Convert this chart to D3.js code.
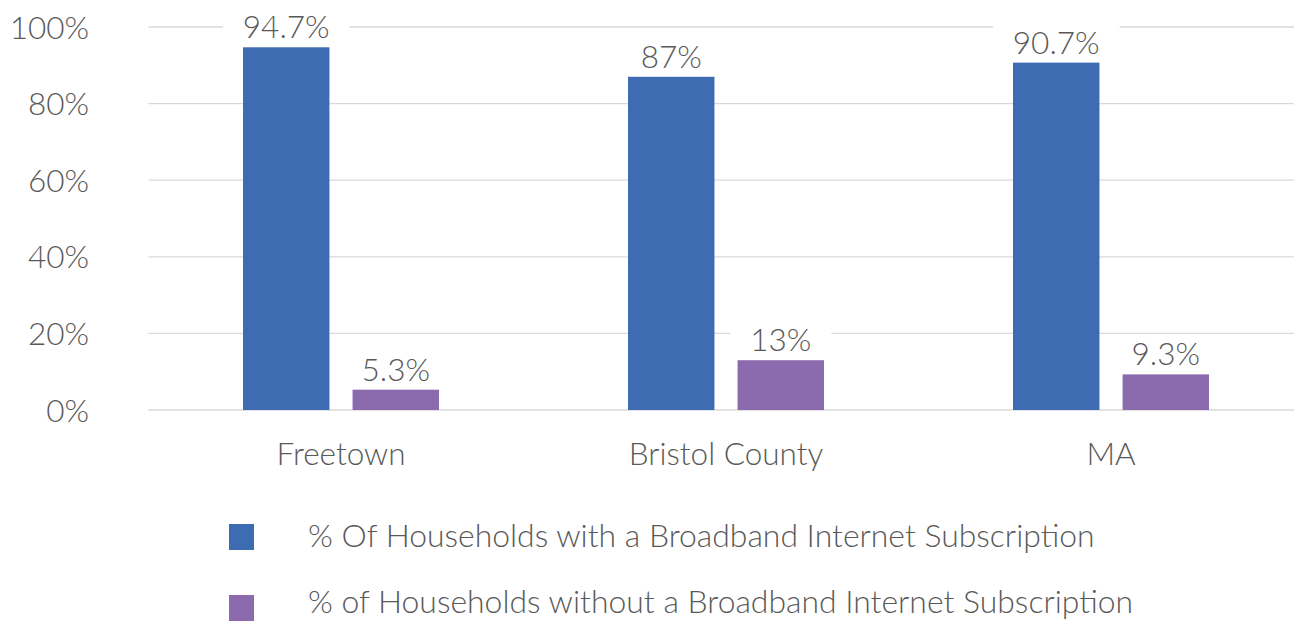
<!DOCTYPE html>
<html>
<head>
<meta charset="utf-8">
<script src="https://cdn.jsdelivr.net/npm/d3@7"></script>
<style>
  html, body { margin: 0; padding: 0; background: #fff; }
  svg { display: block; font-family: "Source Sans Pro", "Lato", "Open Sans", sans-serif; font-weight: 300; }
  text { fill: #595959; }
</style>
</head>
<body>
<svg id="chart" width="1294" height="623"></svg>
<script>
// Share of households by broadband subscription status
const categories = ["Freetown", "Bristol County", "MA"];
const seriesNames = [
  "% Of Households with a Broadband Internet Subscription",
  "% of Households without a Broadband Internet Subscription"
];
const withBroadband = [94.7, 87, 90.7];
const withoutBroadband = [5.3, 13, 9.3];
const valueLabels = [["94.7%", "87%", "90.7%"], ["5.3%", "13%", "9.3%"]];
const yTicks = [0, 20, 40, 60, 80, 100];
const colors = ["#3E6CB2", "#8B6BAD"];

const seriesValues = [withBroadband, withoutBroadband];
const svg = d3.select("#chart");
const fontSize = 31.5;
const legendFontSize = 31.9;

const plotLeft = 148.5, plotRight = 1303.5;
const y = d3.scaleLinear().domain([0, 100]).range([410, 27]);
const x0 = d3.scaleBand().domain(categories).range([plotLeft, plotRight]);
const x1 = d3.scaleBand().domain(d3.range(seriesNames.length))
  .range([94.5, 290.5]).paddingInner(0.211).paddingOuter(0);

// gridlines
svg.append("g").selectAll("line").data(yTicks).join("line")
  .attr("x1", plotLeft).attr("x2", 1294)
  .attr("y1", d => y(d)).attr("y2", d => y(d))
  .attr("stroke", "#d9d9d9").attr("stroke-width", 1.3);

// y axis labels
const yAxis = d3.axisLeft(y).tickValues(yTicks).tickFormat(d => d + "%").tickSize(0).tickPadding(0);
const yg = svg.append("g").attr("transform", "translate(89,0)").call(yAxis)
  .attr("font-family", null).attr("font-size", null);
yg.select(".domain").remove();
yg.selectAll("text").attr("font-size", fontSize)
  .style("fill", "#595959").attr("dy", "0.35em");

// bars
const groups = svg.append("g").selectAll("g").data(categories).join("g")
  .attr("transform", d => `translate(${x0(d)},0)`);

groups.selectAll("rect").data((c, ci) => seriesValues.map((s, si) => ({ si, ci, v: s[ci] })))
  .join("rect")
  .attr("x", d => x1(d.si))
  .attr("width", x1.bandwidth())
  .attr("y", d => y(d.v))
  .attr("height", d => y(0) - y(d.v))
  .attr("fill", d => colors[d.si]);

// value labels with white backing
const labelLayer = svg.append("g");
categories.forEach((c, ci) => {
  seriesValues.forEach((s, si) => {
    const cx = x0(c) + x1(si) + x1.bandwidth() / 2;
    const g = labelLayer.append("g");
    const t = g.append("text")
      .attr("x", cx).attr("y", y(s[ci]) - 9)
      .attr("text-anchor", "middle").attr("font-size", fontSize)
      .text(valueLabels[si][ci]);
    const b = t.node().getBBox();
    g.insert("rect", "text")
      .attr("x", b.x - 20).attr("y", b.y)
      .attr("width", b.width + 40).attr("height", b.height)
      .attr("fill", "#fff");
  });
});

// x axis category labels
const xAxis = d3.axisBottom(x0).tickSize(0).tickPadding(0);
const xg = svg.append("g").attr("transform", "translate(0,465)").call(xAxis)
  .attr("font-family", null).attr("font-size", null);
xg.select(".domain").remove();
xg.selectAll("text").attr("font-size", fontSize)
  .style("fill", "#595959").attr("dy", 0);

// legend
const legendTop = [524, 595];
const legendBaseline = [547, 613];
const legend = svg.append("g").selectAll("g").data(seriesNames).join("g");
legend.append("rect").attr("x", 229).attr("y", (d, i) => legendTop[i])
  .attr("width", 25).attr("height", 26).attr("fill", (d, i) => colors[i]);
legend.append("text").attr("x", 308).attr("y", (d, i) => legendBaseline[i])
  .attr("font-size", legendFontSize).text(d => d);
</script>
</body>
</html>
